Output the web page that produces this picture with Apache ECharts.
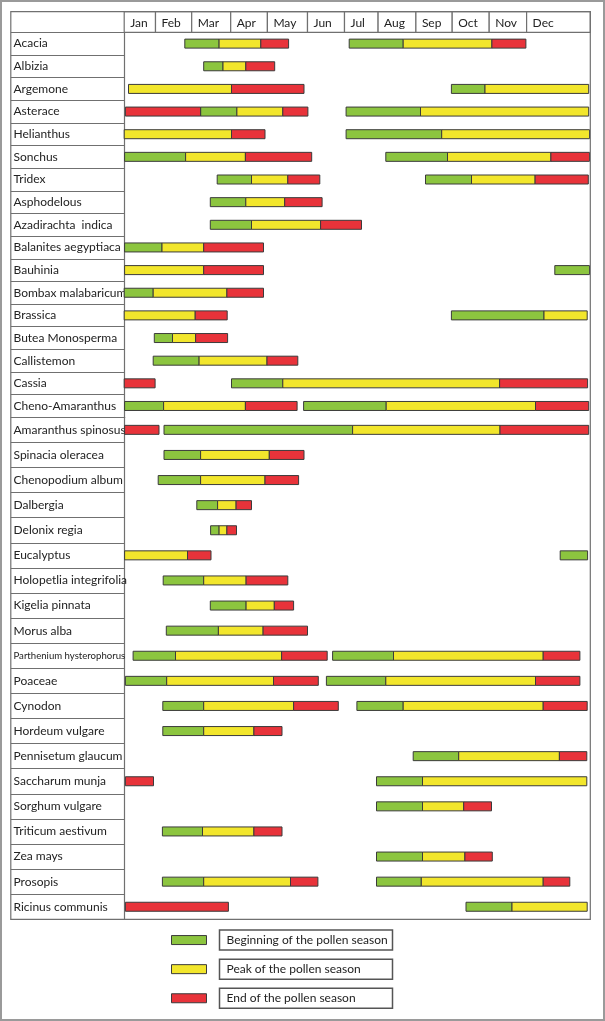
<!DOCTYPE html>
<html><head><meta charset="utf-8">
<script src="https://cdn.jsdelivr.net/npm/echarts@6/dist/echarts.min.js"></script>
<style>html,body{margin:0;padding:0;background:#fff}#c{width:605px;height:1021px}</style>
</head><body><div id="c"></div><script>
// Month header: column edges on the chart's timeline (Jan start = 0)
const months = ['Jan','Feb','Mar','Apr','May','Jun','Jul','Aug','Sep','Oct','Nov','Dec'];
const monthEdges = [0, 31.3, 67.5, 106.5, 143.2, 183.3, 220.3, 253.9, 291.7, 328, 365, 402.4, 466.1];

const plants = ['Acacia','Albizia','Argemone','Asterace','Helianthus','Sonchus','Tridex','Asphodelous',
  'Azadirachta  indica','Balanites aegyptiaca','Bauhinia','Bombax malabaricum','Brassica','Butea Monosperma',
  'Callistemon','Cassia','Cheno-Amaranthus','Amaranthus spinosus','Spinacia oleracea','Chenopodium album',
  'Dalbergia','Delonix regia','Eucalyptus','Holopetlia integrifolia','Kigelia pinnata','Morus alba',
  'Parthenium hysterophorus','Poaceae','Cynodon','Hordeum vulgare','Pennisetum glaucum','Saccharum munja',
  'Sorghum vulgare','Triticum aestivum','Zea mays','Prosopis','Ricinus communis'];

const phaseNames = ['Beginning of the pollen season','Peak of the pollen season','End of the pollen season'];

// [plant, start, end] on the timeline
const beginning = [
 ['Acacia',60.6,94.9],['Acacia',225,279],['Albizia',79.5,98.8],['Argemone',327.2,360.8],
 ['Asterace',76.4,112.7],['Asterace',221.9,296.3],['Helianthus',221.9,317.5],
 ['Sonchus',0.4,61.4],['Sonchus',261.6,323.3],['Tridex',93,127.3],['Tridex',301.3,347.3],
 ['Asphodelous',86.1,121.6],['Azadirachta  indica',86.1,127.3],['Balanites aegyptiaca',0.4,37.8],
 ['Bauhinia',430.6,465.3],['Bombax malabaricum',0,29],['Brassica',327.2,419.8],['Butea Monosperma',30.1,48.3],
 ['Callistemon',29,74.9],['Cassia',107.3,158.6],['Cheno-Amaranthus',0.4,39.4],['Cheno-Amaranthus',179.4,262],
 ['Amaranthus spinosus',39.8,228.4],['Spinacia oleracea',39.8,76.4],['Chenopodium album',34,76.4],
 ['Dalbergia',72.6,93.4],['Delonix regia',86.4,94.9],['Eucalyptus',436,463.4],
 ['Holopetlia integrifolia',39,79.5],['Kigelia pinnata',86.1,121.9],['Morus alba',42.1,94.2],
 ['Parthenium hysterophorus',8.9,51.3],['Parthenium hysterophorus',208.4,269.3],
 ['Poaceae',1.2,42.5],['Poaceae',202.2,261.6],['Cynodon',38.6,79.5],['Cynodon',232.7,279],
 ['Hordeum vulgare',38.6,79.5],['Pennisetum glaucum',289,334.5],['Saccharum munja',252.3,298.3],
 ['Sorghum vulgare',252.3,298.3],['Triticum aestivum',38.2,78.3],['Zea mays',252.3,298.3],
 ['Prosopis',38.2,79.5],['Prosopis',252.3,297.1],['Ricinus communis',341.8,387.8]
];
const peak = [
 ['Acacia',94.9,136.6],['Acacia',279,367.7],['Albizia',98.8,121.6],['Argemone',4.3,107.3],['Argemone',360.8,464.5],
 ['Asterace',112.7,158.6],['Asterace',296.3,464.5],['Helianthus',0,107.3],['Helianthus',317.5,465.3],
 ['Sonchus',61.4,121.2],['Sonchus',323.3,426.7],['Tridex',127.3,163.6],['Tridex',347.3,410.9],
 ['Asphodelous',121.6,160.5],['Azadirachta  indica',127.3,196.4],['Balanites aegyptiaca',37.8,79.5],
 ['Bauhinia',0.4,79.5],['Bombax malabaricum',29,102.7],['Brassica',0,71],['Brassica',419.8,463],
 ['Butea Monosperma',48.3,71.4],['Callistemon',74.9,142.8],['Cassia',158.6,375.4],
 ['Cheno-Amaranthus',39.4,121.2],['Cheno-Amaranthus',262,411.3],['Amaranthus spinosus',228.4,375.8],
 ['Spinacia oleracea',76.4,145.1],['Chenopodium album',76.4,140.8],['Dalbergia',93.4,111.9],
 ['Delonix regia',94.9,102.7],['Eucalyptus',0.4,63.3],['Holopetlia integrifolia',79.5,121.9],
 ['Kigelia pinnata',121.9,150.1],['Morus alba',94.2,138.9],
 ['Parthenium hysterophorus',51.3,157.4],['Parthenium hysterophorus',269.3,419],
 ['Poaceae',42.5,149.3],['Poaceae',261.6,411.3],['Cynodon',79.5,169.4],['Cynodon',279,419],
 ['Hordeum vulgare',79.5,129.7],['Pennisetum glaucum',334.5,435.2],['Saccharum munja',298.3,462.6],
 ['Sorghum vulgare',298.3,339.5],['Triticum aestivum',78.3,129.7],['Zea mays',298.3,340.7],
 ['Prosopis',79.5,166.3],['Prosopis',297.1,419],['Ricinus communis',387.8,463]
];
const ending = [
 ['Acacia',136.6,164.4],['Acacia',367.7,401.7],['Albizia',121.6,150.5],['Argemone',107.3,179.8],
 ['Asterace',1.2,76.4],['Asterace',158.6,183.7],['Helianthus',107.3,140.8],
 ['Sonchus',121.2,187.5],['Sonchus',426.7,465.3],['Tridex',163.6,195.6],['Tridex',410.9,464.1],
 ['Asphodelous',160.5,197.9],['Azadirachta  indica',196.4,237.3],['Balanites aegyptiaca',79.5,139.3],
 ['Bauhinia',79.5,139.3],['Bombax malabaricum',102.7,139.3],['Brassica',71,103],['Butea Monosperma',71.4,103.4],
 ['Callistemon',142.8,173.6],['Cassia',0,30.9],['Cassia',375.4,463.4],
 ['Cheno-Amaranthus',121.2,172.9],['Cheno-Amaranthus',411.3,464.5],
 ['Amaranthus spinosus',0.4,34.8],['Amaranthus spinosus',375.8,464.5],
 ['Spinacia oleracea',145.1,179.8],['Chenopodium album',140.8,174.4],['Dalbergia',111.9,127.3],
 ['Delonix regia',102.7,112.3],['Eucalyptus',63.3,86.8],['Holopetlia integrifolia',121.9,163.6],
 ['Kigelia pinnata',150.1,169.4],['Morus alba',138.9,183.3],
 ['Parthenium hysterophorus',157.4,203],['Parthenium hysterophorus',419,455.7],
 ['Poaceae',149.3,194.1],['Poaceae',411.3,455.7],['Cynodon',169.4,214.1],['Cynodon',419,463],
 ['Hordeum vulgare',129.7,157.8],['Pennisetum glaucum',435.2,462.6],['Saccharum munja',1.2,29.3],
 ['Sorghum vulgare',339.5,367.3],['Triticum aestivum',129.7,157.8],['Zea mays',340.7,368.1],
 ['Prosopis',166.3,193.7],['Prosopis',419,445.6],['Ricinus communis',1.2,104.2]
];

// ---- layout / style ----
const FONT = 'Lato, "Liberation Sans", sans-serif';
const LINE = '#707070';
const colors = ['#8cc53f', '#f2e62c', '#e8333a'];
const BAR_H = 9;
const SPLIT = 17; // the table's lower rows are taller: two row blocks
const L = 124.2, R = 605 - 590.3;
const blocks = [plants.slice(0, SPLIT), plants.slice(SPLIT)];

const chart = echarts.init(document.getElementById('c'), null, {renderer: 'canvas'});

function renderBar(params, api) {
  const y = api.value(0);
  const p0 = api.coord([api.value(1), y]);
  const p1 = api.coord([api.value(2), y]);
  return {type: 'rect', shape: {x: p0[0], y: p0[1] - BAR_H / 2, width: p1[0] - p0[0], height: BAR_H},
          style: {fill: api.visual('color'), stroke: '#3b3b3b', lineWidth: 1}};
}

const grids = [
  {left: L, right: R, top: 32.3, height: 385, outerBoundsMode: 'none'},
  {left: L, right: R, top: 417.3, height: 502, outerBoundsMode: 'none'},
  {left: L, right: R, top: 11.6, height: 20.7, outerBoundsMode: 'none'}
];
const xAxes = [0, 1, 2].map(i => ({type: 'value', gridIndex: i, min: 0, max: monthEdges[12], show: false}));
const yAxes = blocks.map((names, i) => ({
  type: 'category', gridIndex: i, inverse: true,
  data: names.map(n => n === 'Parthenium hysterophorus'
    ? {value: n, textStyle: {fontSize: 9.6, align: 'left', fontFamily: FONT, color: '#222'}} : n),
  axisLine: {show: true, lineStyle: {color: LINE, width: 1.2}},
  axisTick: {show: true, interval: 0, length: L - 10.8, lineStyle: {color: LINE, width: 1.2}},
  axisLabel: {interval: 0, align: 'left', margin: L - 13.5, fontFamily: FONT, fontSize: 12, color: '#222'},
  splitLine: {show: false}
}));
yAxes.push({type: 'value', gridIndex: 2, min: 0, max: 1, show: false});

const series = [];
[beginning, peak, ending].forEach((arr, k) => {
  blocks.forEach((names, g) => {
    series.push({
      type: 'custom', name: phaseNames[k], xAxisIndex: g, yAxisIndex: g,
      itemStyle: {color: colors[k]},
      encode: {x: [1, 2], y: 0},
      renderItem: renderBar,
      data: arr.filter(d => names.includes(d[0])).map(d => [names.indexOf(d[0]), d[1], d[2]])
    });
  });
});
// header cells
series.push({
  type: 'custom', xAxisIndex: 2, yAxisIndex: 2, silent: true,
  encode: {x: [0, 1]},
  data: months.map((m, i) => [monthEdges[i], monthEdges[i + 1]]),
  renderItem: (params, api) => {
    const a = api.coord([api.value(0), 1]);
    const b = api.coord([api.value(1), 0]);
    return {type: 'group', children: [
      {type: 'rect', shape: {x: a[0], y: a[1], width: b[0] - a[0], height: b[1] - a[1]},
       style: {fill: '#fff', stroke: LINE, lineWidth: 1.2}},
      {type: 'text', style: {text: months[params.dataIndex], x: a[0] + 6, y: (a[1] + b[1]) / 2 + 1,
        verticalAlign: 'middle', font: '12px ' + FONT, fill: '#222'}}
    ]};
  }
});

chart.setOption({
  animation: false,
  backgroundColor: '#fff',
  grid: grids, xAxis: xAxes, yAxis: yAxes, series,
  legend: {
    data: phaseNames, orient: 'vertical', left: 171, top: 929.3, padding: 0, icon: 'rect',
    itemWidth: 35, itemHeight: 9, itemGap: 7.6, selectedMode: false,
    itemStyle: {borderColor: '#3b3b3b', borderWidth: 1},
    formatter: n => '{g|}{b|' + n + '}',
    textStyle: {rich: {
      g: {width: 8},
      b: {fontFamily: FONT, fontSize: 12, color: '#222', borderColor: '#555', borderWidth: 1.5,
          padding: [4, 6, 4, 7], width: 160, lineHeight: 13}
    }}
  },
  graphic: [
    {type: 'rect', shape: {x: 10.8, y: 11.6, width: 590.3 - 10.8, height: 919.3 - 11.6},
     style: {fill: 'none', stroke: LINE, lineWidth: 1.2}, z: 100},
    {type: 'rect', shape: {x: 1, y: 1, width: 603, height: 1019},
     style: {fill: 'none', stroke: '#9a9a9a', lineWidth: 2}, z: 100}
  ]
});
</script></body></html>
